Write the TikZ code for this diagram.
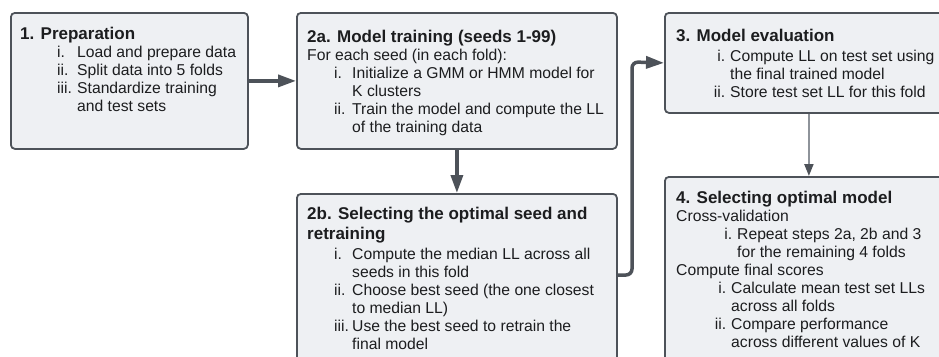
\documentclass[tikz,border=0pt]{standalone}
\usepackage{fontspec}
\setmainfont{Liberation Sans}
\usetikzlibrary{arrows.meta}
\definecolor{boxfill}{HTML}{EEF0F3}
\definecolor{boxline}{HTML}{4D5259}
\definecolor{arrowc}{HTML}{4D5259}
\definecolor{thinc}{HTML}{8E939A}
\definecolor{txtc}{HTML}{1C1D1F}
\newcommand\ttl[1]{{\fontsize{17}{20}\selectfont\bfseries #1\par}}
\newcommand\itemL[3]{\par\hspace*{#1}\makebox[#2][l]{#3}}
\newcommand\itemR[2]{\par\hspace*{#1}\llap{#2\hspace{5pt}}}
\newcommand\cont[1]{\par\hspace*{#1}}
\newcommand\body{\fontsize{15.7}{18}\selectfont}
\begin{document}
\begin{tikzpicture}[x=1pt,y=-1pt,
  box/.style={draw=boxline, fill=boxfill, line width=1.8pt, rounded corners=4pt, inner sep=0pt, anchor=north west},
  txt/.style={anchor=base west, inner sep=0pt, text=txtc},
  bigarrow/.style={draw=arrowc, line width=3.5pt, -{Triangle[length=18pt,width=12pt]}},
  thinarrow/.style={draw=thinc, line width=2pt, -{Triangle[length=12pt,width=9pt,color=arrowc]}}]
\useasboundingbox (0,0) rectangle (939,356);
\clip (0,0) rectangle (939,356);
\fill[white] (0,0) rectangle (939,356);

\node[box, minimum width=237pt, minimum height=136pt] (b1) at (10,12) {};
\node[box, minimum width=320pt, minimum height=136pt] (b2a) at (296,12) {};
\node[box, minimum width=288pt, minimum height=100pt] (b3) at (664,12) {};
\node[box, minimum width=320pt, minimum height=180pt] (b2b) at (296,193) {};
\node[box, minimum width=288pt, minimum height=190pt] (b4) at (664,176) {};

\node[txt] (t1) at (20,39) {\parbox[t]{225pt}{\body
  \ttl{1. Preparation}
  \itemL{37pt}{20pt}{i.}Load and prepare data
  \itemL{37pt}{20pt}{ii.}Split data into 5 folds
  \itemL{37pt}{20pt}{iii.}Standardize training
  \cont{57pt}and test sets}};

\node[txt] (t2a) at (307,42) {\parbox[t]{305pt}{\body
  \ttl{2a. Model training (seeds 1-99)}
  \cont{0pt}For each seed (in each fold):
  \itemL{27pt}{18pt}{i.}Initialize a GMM or HMM model for
  \cont{45pt}K clusters
  \itemL{27pt}{18pt}{ii.}Train the model and compute the LL
  \cont{45pt}of the training data}};

\node[txt] (t2b) at (307,219) {\parbox[t]{305pt}{\body
  \ttl{2b. Selecting the optimal seed and\\retraining}
  \vspace{2pt}
  \itemL{27pt}{18pt}{i.}Compute the median LL across all
  \cont{45pt}seeds in this fold
  \itemL{27pt}{18pt}{ii.}Choose best seed (the one closest
  \cont{45pt}to median LL)
  \itemL{27pt}{18pt}{iii.}Use the best seed to retrain the
  \cont{45pt}final model}};

\node[txt] (t3) at (676,41) {\parbox[t]{270pt}{\body
  \ttl{3. Model evaluation}
  \vspace{2pt}
  \itemR{54pt}{i.}Compute LL on test set using
  \cont{54pt}the final trained model
  \itemR{54pt}{ii.}Store test set LL for this fold}};

\node[txt] (t4) at (676,203) {\parbox[t]{270pt}{\body
  \ttl{4. Selecting optimal model}
  \cont{0pt}Cross-validation
  \itemR{61pt}{i.}Repeat steps 2a, 2b and 3
  \cont{61pt}for the remaining 4 folds
  \cont{0pt}Compute final scores
  \itemR{55pt}{i.}Calculate mean test set LLs
  \cont{55pt}across all folds
  \itemR{55pt}{ii.}Compare performance
  \cont{55pt}across different values of K}};

\coordinate (j) at (632,62);
\draw[bigarrow] (b1.east) -- (b2a.west);
\draw[bigarrow] (b2a.south) -- (b2b.north);
\draw[bigarrow, rounded corners=6pt] ([yshift=-82pt]b2b.north east) -| (j) -- (b3.west);
\draw[thinarrow] (b3.south) -- (b4.north);
\end{tikzpicture}
\end{document}
